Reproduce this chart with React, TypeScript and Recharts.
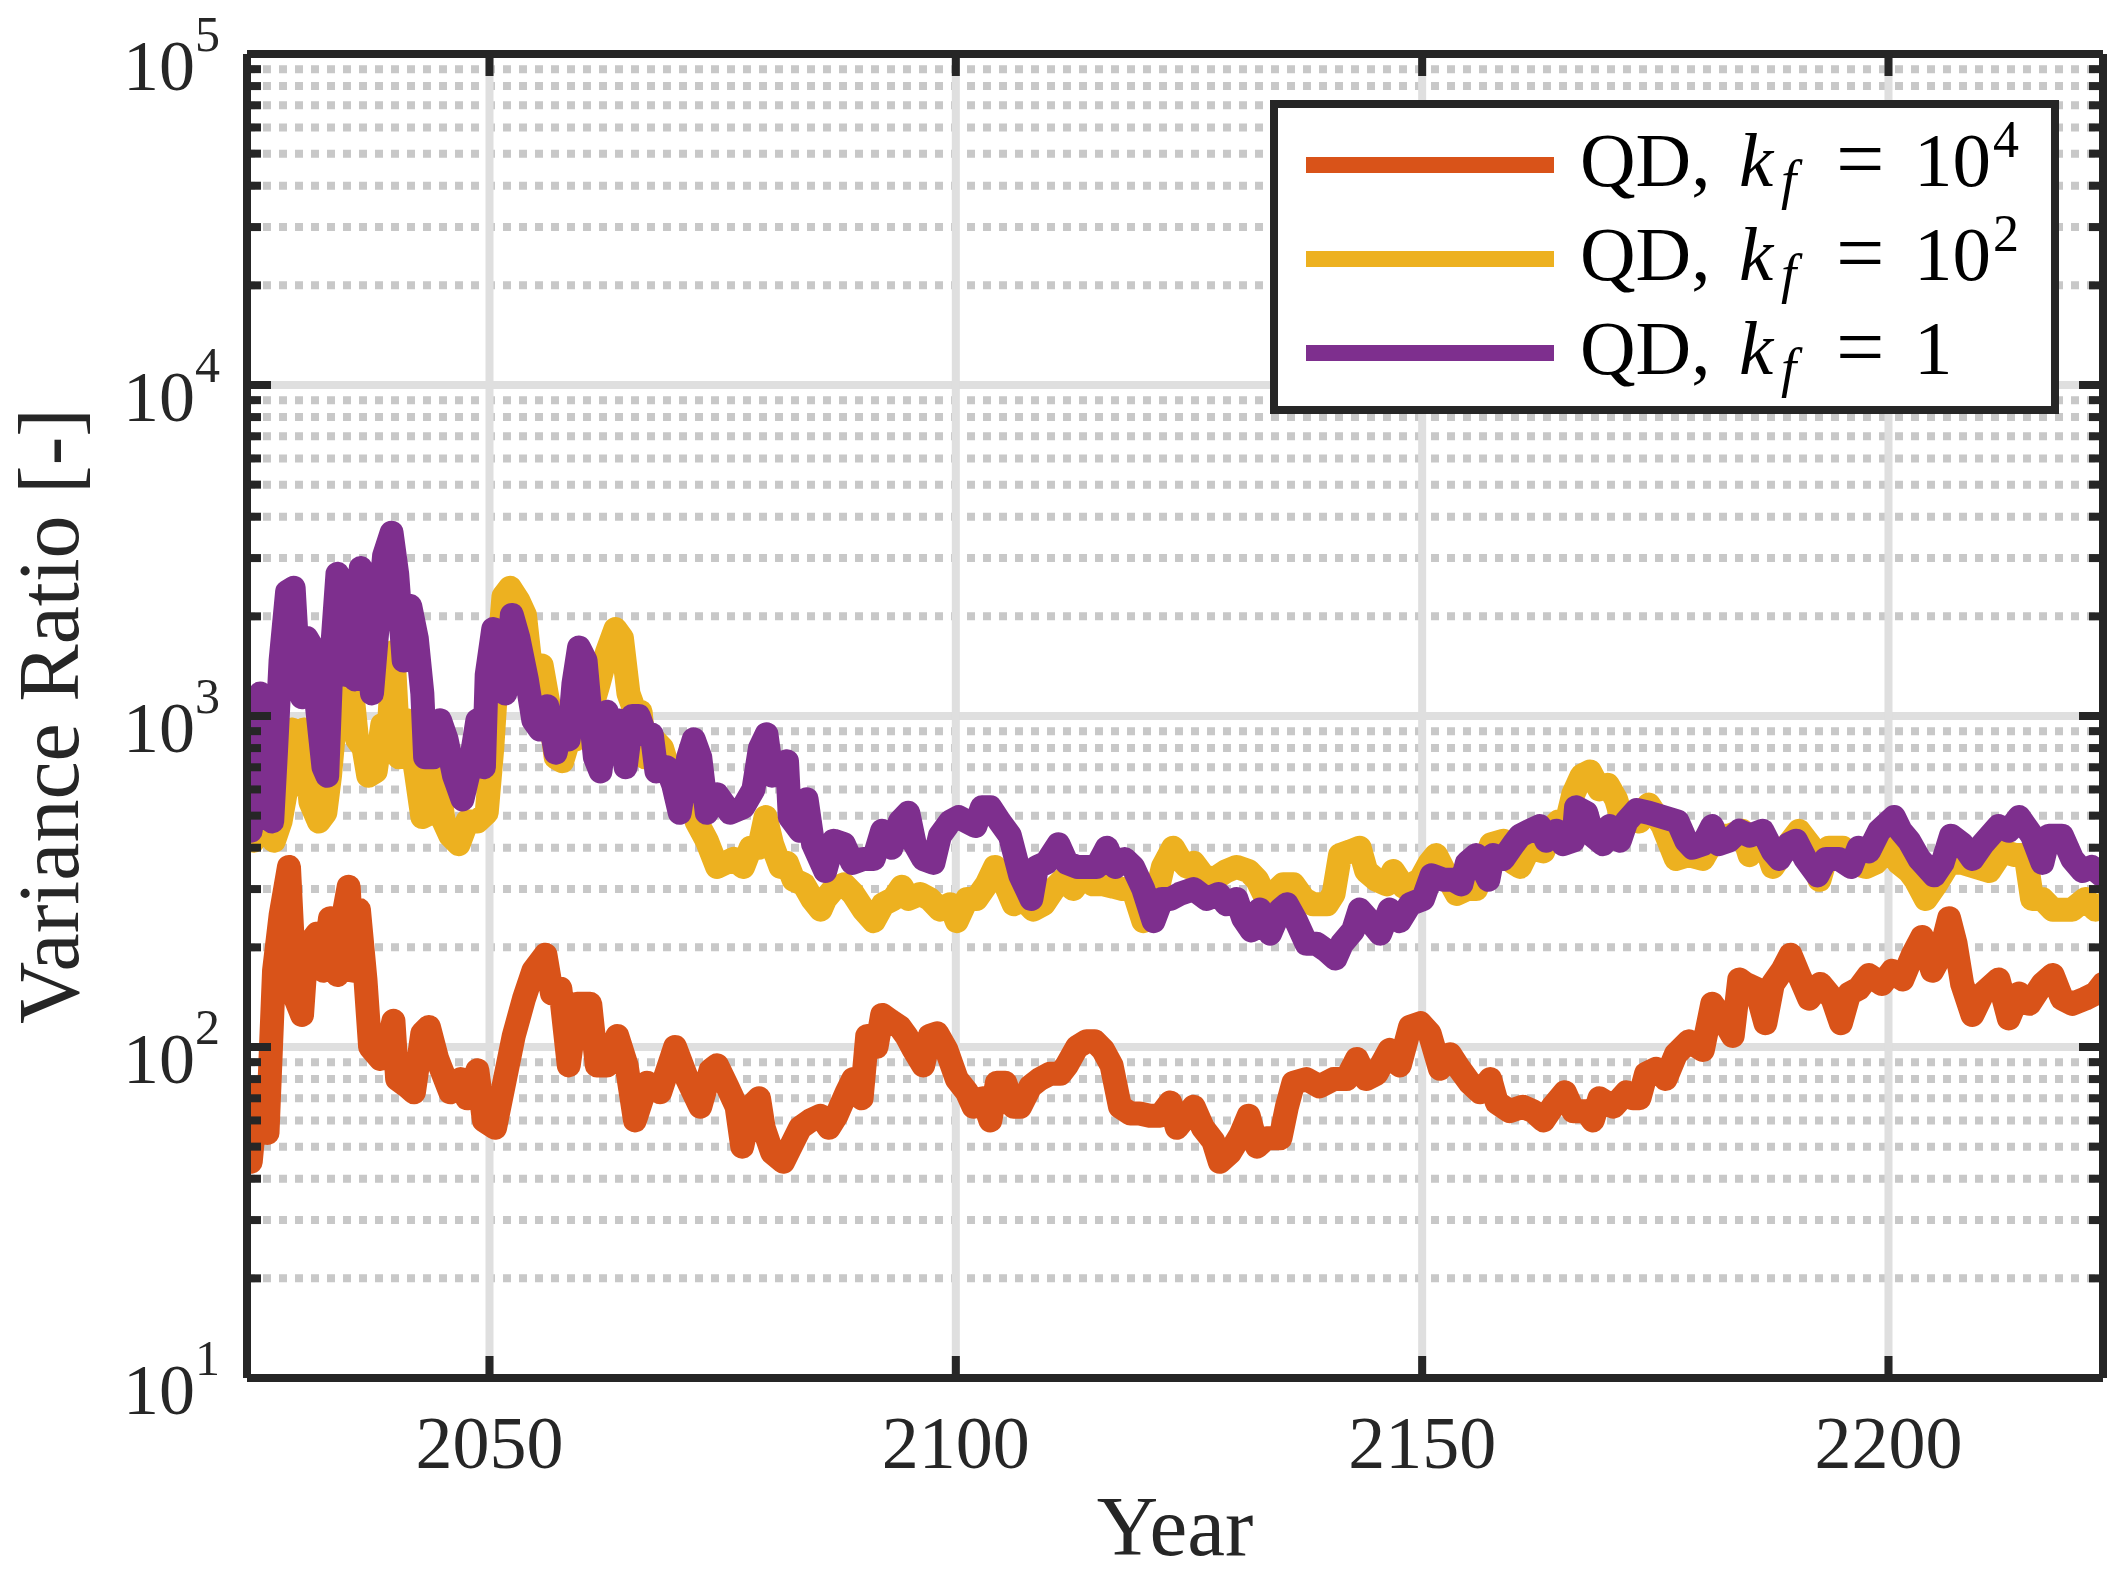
import React from 'react';
import { LineChart, Line, XAxis, YAxis, ReferenceLine, Legend, Label } from 'recharts';

// ---------- data (year, variance ratio) ----------
const orangePoints: [number, number][] = [
  [2024.0, 56], [2024.4, 45], [2025.1, 73], [2026.2, 55], [2026.9, 170], [2027.6, 250], [2028.5, 350],
  [2029.2, 140], [2029.9, 125], [2030.4, 200], [2031.5, 220], [2032.2, 170], [2032.9, 245], [2033.7, 165],
  [2034.4, 255], [2034.9, 305], [2035.4, 170], [2036.0, 260], [2036.7, 160], [2037.2, 100], [2038.3, 92],
  [2039.0, 98], [2039.7, 120], [2040.1, 80], [2041.2, 76], [2041.9, 73], [2042.8, 110], [2043.5, 115],
  [2044.4, 92], [2045.8, 73], [2046.9, 80], [2047.6, 70], [2048.7, 85], [2049.4, 60], [2050.6, 57],
  [2051.5, 76], [2052.6, 108], [2053.7, 140], [2054.7, 170], [2056.0, 190], [2056.7, 145], [2057.6, 150],
  [2058.5, 88], [2059.4, 135], [2060.8, 135], [2061.5, 88], [2062.6, 88], [2063.7, 108], [2064.7, 88],
  [2065.6, 60], [2066.9, 78], [2068.3, 73], [2069.9, 100], [2071.2, 80], [2072.6, 66], [2073.7, 85],
  [2074.4, 88], [2075.5, 76], [2076.5, 66], [2077.1, 50], [2078.0, 66], [2078.9, 70], [2079.4, 57],
  [2080.3, 48], [2081.5, 45], [2082.6, 52], [2083.3, 57], [2084.4, 60], [2085.5, 62], [2086.4, 57],
  [2087.2, 62], [2088.3, 73], [2089.0, 80], [2089.9, 70], [2090.5, 108], [2091.5, 100], [2092.1, 125],
  [2093.0, 120], [2094.0, 115], [2094.7, 108], [2095.5, 98], [2096.5, 88], [2097.2, 108], [2098.0, 110],
  [2099.0, 98], [2100.1, 80], [2101.2, 73], [2101.9, 66], [2102.9, 70], [2103.7, 60], [2104.4, 78],
  [2105.3, 78], [2106.2, 66], [2106.9, 66], [2108.0, 76], [2109.0, 80], [2110.1, 83], [2111.2, 83],
  [2111.9, 88], [2113.0, 100], [2114.0, 104], [2114.9, 104], [2115.8, 98], [2116.7, 88], [2117.6, 66],
  [2118.7, 63], [2119.7, 63], [2120.8, 62], [2121.9, 62], [2123.0, 68], [2123.7, 57], [2125.5, 66],
  [2126.5, 57], [2127.6, 52], [2128.3, 45], [2129.4, 48], [2130.5, 54], [2131.4, 62], [2132.3, 50],
  [2133.3, 53], [2134.8, 53], [2135.5, 66], [2136.2, 78], [2137.6, 80], [2139.0, 76], [2140.5, 80],
  [2141.9, 80], [2143.0, 92], [2144.0, 80], [2145.1, 83], [2146.5, 98], [2147.6, 88], [2148.7, 115],
  [2149.8, 118], [2150.8, 110], [2151.9, 86], [2153.0, 95], [2154.0, 86], [2155.1, 78], [2156.2, 73],
  [2157.3, 80], [2158.0, 68], [2159.4, 64], [2160.8, 66], [2161.9, 64], [2163.0, 60], [2164.0, 66],
  [2165.3, 73], [2166.2, 64], [2167.6, 64], [2168.3, 60], [2169.0, 70], [2170.5, 66], [2171.9, 73],
  [2172.6, 70], [2173.3, 70], [2174.0, 83], [2175.1, 86], [2176.1, 80], [2177.2, 95], [2178.6, 104],
  [2180.1, 98], [2181.1, 135], [2182.2, 122], [2183.3, 108], [2184.0, 160], [2184.7, 155], [2185.8, 150],
  [2186.8, 118], [2187.6, 155], [2188.6, 170], [2189.5, 190], [2190.4, 165], [2191.5, 140], [2192.7, 155],
  [2194.0, 140], [2194.9, 118], [2195.8, 145], [2196.8, 150], [2197.9, 165], [2199.3, 155], [2200.4, 170],
  [2201.5, 160], [2202.6, 190], [2203.6, 215], [2204.7, 170], [2205.4, 185], [2206.5, 245], [2207.2, 205],
  [2207.9, 155], [2209.0, 125], [2210.1, 145], [2211.8, 160], [2212.9, 122], [2214.0, 145], [2215.1, 135],
  [2216.5, 155], [2217.6, 165], [2218.6, 140], [2219.7, 135], [2221.1, 140], [2222.2, 145], [2223.0, 155],
];

const yellowPoints: [number, number][] = [
  [2024.0, 560], [2024.3, 1000], [2024.7, 420], [2025.3, 660], [2026.0, 750], [2026.9, 420], [2027.6, 480],
  [2028.3, 620], [2028.8, 910], [2029.6, 620], [2030.1, 910], [2030.8, 550], [2031.7, 480], [2032.4, 510],
  [2032.9, 660], [2033.7, 1170], [2034.4, 970], [2035.1, 1330], [2035.8, 850], [2036.5, 800], [2037.0, 660],
  [2037.8, 680], [2038.5, 940], [2039.2, 910], [2039.7, 1560], [2040.3, 750], [2041.2, 970], [2042.1, 680],
  [2042.8, 495], [2043.7, 510], [2044.4, 660], [2045.1, 480], [2045.8, 435], [2046.7, 410], [2047.6, 480],
  [2048.7, 480], [2049.7, 510], [2050.3, 800], [2050.8, 1330], [2051.5, 2300], [2052.2, 2440], [2053.1, 2230],
  [2053.8, 2020], [2054.4, 1420], [2055.1, 1330], [2055.6, 1420], [2056.3, 1100], [2057.1, 750], [2057.8, 730],
  [2058.5, 850], [2059.2, 850], [2060.1, 910], [2061.0, 1070], [2061.7, 1250], [2062.6, 1560], [2063.5, 1830],
  [2064.2, 1720], [2064.9, 1170], [2065.6, 1030], [2066.2, 1030], [2066.7, 750], [2067.6, 850], [2068.5, 800],
  [2069.4, 660], [2070.4, 620], [2071.5, 580], [2072.2, 480], [2073.3, 420], [2074.4, 350], [2076.2, 370],
  [2077.2, 350], [2078.0, 400], [2078.9, 400], [2079.6, 495], [2080.3, 410], [2081.2, 350], [2081.9, 360],
  [2082.6, 320], [2083.7, 310], [2084.6, 280], [2085.5, 260], [2086.0, 280], [2086.9, 300], [2088.0, 310],
  [2089.0, 290], [2090.1, 260], [2091.2, 240], [2092.2, 270], [2093.3, 280], [2094.2, 305], [2094.9, 280],
  [2096.2, 290], [2097.2, 280], [2098.3, 260], [2099.4, 270], [2100.1, 240], [2101.2, 280], [2102.2, 280],
  [2103.3, 310], [2104.2, 350], [2105.1, 320], [2106.2, 270], [2107.2, 280], [2108.3, 260], [2109.4, 270],
  [2110.5, 300], [2111.5, 320], [2112.6, 300], [2113.7, 330], [2114.7, 310], [2115.8, 310], [2116.9, 305],
  [2117.9, 300], [2119.0, 300], [2120.1, 240], [2121.4, 280], [2122.2, 350], [2123.3, 400], [2124.0, 370],
  [2124.8, 350], [2125.5, 360], [2126.5, 330], [2127.6, 320], [2129.0, 340], [2130.1, 350], [2131.4, 340],
  [2132.3, 320], [2133.3, 280], [2134.0, 290], [2135.1, 310], [2136.2, 310], [2137.3, 280], [2138.3, 270],
  [2139.8, 270], [2140.5, 290], [2141.2, 380], [2142.3, 390], [2143.3, 400], [2144.0, 340], [2145.1, 320],
  [2146.2, 310], [2146.9, 340], [2148.0, 305], [2148.9, 310], [2149.8, 320], [2150.8, 360], [2151.5, 380],
  [2152.6, 330], [2153.7, 290], [2154.8, 300], [2155.8, 300], [2156.5, 350], [2157.4, 410], [2158.7, 420],
  [2159.8, 360], [2160.5, 350], [2161.5, 400], [2163.0, 390], [2163.7, 450], [2164.6, 480], [2165.5, 480],
  [2166.2, 580], [2167.1, 660], [2168.0, 680], [2169.0, 600], [2169.9, 620], [2170.8, 560], [2171.5, 480],
  [2172.6, 510], [2173.3, 480], [2174.3, 540], [2175.8, 465], [2177.2, 370], [2178.6, 380], [2180.1, 370],
  [2181.5, 435], [2182.9, 435], [2184.3, 450], [2185.1, 380], [2186.5, 435], [2187.6, 350], [2189.0, 400],
  [2190.4, 450], [2191.8, 400], [2192.6, 320], [2193.6, 400], [2195.1, 400], [2196.1, 360], [2197.6, 350],
  [2198.6, 360], [2200.1, 400], [2201.1, 360], [2202.2, 340], [2202.9, 320], [2204.0, 280], [2205.1, 310],
  [2206.5, 360], [2207.9, 360], [2209.3, 350], [2210.8, 340], [2212.2, 390], [2213.6, 380], [2214.7, 380],
  [2215.4, 280], [2216.5, 280], [2217.6, 260], [2218.6, 260], [2219.7, 260], [2221.1, 280], [2222.2, 260],
  [2223.0, 270],
];

const purplePoints: [number, number][] = [
  [2024.0, 660], [2024.4, 450], [2024.9, 1100], [2025.4, 1170], [2026.0, 1140], [2026.7, 480], [2027.1, 775],
  [2027.6, 1470], [2028.3, 2370], [2029.0, 2440], [2029.6, 1250], [2029.9, 1140], [2030.4, 1720], [2031.0, 1610],
  [2031.5, 1070], [2032.2, 700], [2032.6, 660], [2033.1, 1560], [2033.7, 2690], [2034.0, 2020], [2034.6, 1330],
  [2035.1, 2170], [2035.6, 1290], [2036.2, 2800], [2036.7, 1830], [2037.4, 1170], [2037.9, 1720], [2038.7, 3050],
  [2039.5, 3580], [2040.1, 2690], [2040.8, 1470], [2041.5, 2150], [2042.2, 1720], [2042.8, 1170], [2043.1, 750],
  [2044.0, 750], [2044.7, 970], [2045.4, 850], [2046.2, 660], [2047.1, 560], [2047.9, 700], [2048.7, 970],
  [2049.4, 700], [2049.7, 1330], [2050.4, 1830], [2051.2, 1420], [2051.7, 1170], [2052.4, 2020], [2053.1, 1720],
  [2054.0, 1290], [2054.7, 970], [2055.4, 910], [2056.2, 1070], [2057.1, 775], [2057.8, 970], [2058.5, 850],
  [2059.0, 1250], [2059.6, 1610], [2060.3, 1470], [2060.8, 1030], [2061.3, 750], [2061.9, 680], [2062.6, 1030],
  [2063.1, 800], [2063.8, 970], [2064.6, 700], [2065.3, 1000], [2066.0, 1000], [2066.7, 880], [2067.4, 880],
  [2067.9, 680], [2069.0, 700], [2069.7, 620], [2070.4, 510], [2071.3, 750], [2071.9, 850], [2072.6, 750],
  [2073.3, 510], [2074.4, 580], [2075.8, 510], [2077.2, 530], [2078.3, 600], [2079.0, 800], [2079.7, 880],
  [2080.3, 660], [2081.0, 680], [2081.9, 730], [2082.2, 495], [2083.3, 450], [2084.0, 560], [2084.7, 410],
  [2086.0, 340], [2086.9, 420], [2088.0, 410], [2088.9, 360], [2090.1, 370], [2091.2, 370], [2092.1, 450],
  [2093.1, 400], [2094.0, 480], [2094.9, 510], [2095.6, 410], [2096.5, 370], [2097.6, 360], [2098.3, 435],
  [2099.4, 480], [2100.3, 495], [2101.2, 480], [2102.1, 465], [2102.8, 530], [2103.7, 530], [2104.7, 480],
  [2105.8, 435], [2106.9, 330], [2108.1, 280], [2108.7, 350], [2109.7, 360], [2111.0, 410], [2111.9, 360],
  [2113.0, 350], [2114.0, 350], [2115.1, 350], [2116.2, 400], [2117.1, 350], [2118.1, 370], [2119.0, 350],
  [2120.1, 300], [2121.2, 240], [2122.1, 280], [2123.0, 280], [2124.0, 290], [2125.5, 300], [2126.9, 280],
  [2128.2, 290], [2129.0, 270], [2130.1, 280], [2130.8, 245], [2131.7, 225], [2132.6, 260], [2133.7, 220],
  [2134.8, 260], [2135.5, 270], [2136.5, 240], [2137.6, 205], [2138.7, 205], [2139.8, 195], [2140.7, 185],
  [2141.4, 205], [2142.6, 225], [2143.3, 260], [2144.4, 240], [2145.5, 220], [2146.5, 260], [2147.6, 240],
  [2148.7, 270], [2150.1, 280], [2151.0, 330], [2152.3, 320], [2153.3, 320], [2154.2, 310], [2154.8, 360],
  [2155.8, 380], [2157.1, 320], [2157.6, 380], [2158.7, 370], [2159.8, 410], [2160.5, 435], [2161.5, 450],
  [2162.6, 465], [2163.3, 420], [2164.4, 450], [2165.1, 410], [2166.2, 420], [2166.5, 530], [2167.6, 510],
  [2168.3, 435], [2169.4, 410], [2170.1, 465], [2171.2, 420], [2171.9, 480], [2173.0, 520], [2174.3, 510],
  [2175.8, 495], [2177.4, 480], [2178.3, 420], [2179.0, 400], [2180.1, 410], [2181.1, 465], [2181.8, 410],
  [2182.9, 420], [2184.0, 450], [2185.1, 435], [2186.5, 450], [2187.6, 390], [2188.3, 370], [2189.3, 410],
  [2190.1, 420], [2191.1, 370], [2192.4, 330], [2193.3, 370], [2194.7, 370], [2196.0, 350], [2196.8, 400],
  [2197.9, 390], [2199.0, 450], [2200.6, 495], [2201.3, 450], [2202.2, 420], [2203.3, 370], [2204.9, 330],
  [2205.8, 360], [2206.7, 435], [2207.9, 410], [2209.0, 370], [2210.1, 410], [2211.8, 465], [2212.9, 450],
  [2214.0, 495], [2215.4, 435], [2216.5, 360], [2217.2, 435], [2218.6, 435], [2219.7, 370], [2220.8, 340],
  [2221.8, 350], [2222.9, 330],
];

// ---------- axes / labels ----------
const xDomain: [number, number] = [2024, 2223];
const yDomain: [number, number] = [10, 100000];
const xTicks = [2050, 2100, 2150, 2200];
const yMajorTicks = [10, 100, 1000, 10000, 100000];
const yMinorMultipliers = [2, 3, 4, 5, 6, 7, 8, 9];
const yAllTicks: number[] = yMajorTicks.flatMap((d, i) =>
  i < yMajorTicks.length - 1 ? [d, ...yMinorMultipliers.map((m) => m * d)] : [d]
);
const yMinorTicks = yAllTicks.filter((v) => !yMajorTicks.includes(v));
const yGridMajor = [100, 1000, 10000];

const seriesNames = ['QD, k_f = 10^4', 'QD, k_f = 10^2', 'QD, k_f = 1'];
const seriesValueText = [['10', '4'], ['10', '2'], ['1', '']];
const seriesColors = ['#D95319', '#EDB120', '#7E2F8E'];

const toRows = (pts: [number, number][]) => pts.map(([year, v]) => ({ year, v }));
const seriesData = [toRows(orangePoints), toRows(yellowPoints), toRows(purplePoints)];

// ---------- styling ----------
const FONT = '"Liberation Serif", "Times New Roman", Times, serif';
const AX = '#262626';
const W = 2124;
const H = 1593;
const LW = 8; // axis / grid line width

const isMajor = (v: number) => Math.abs(Math.log10(v) - Math.round(Math.log10(v))) < 1e-9;

function LeftTick(props: any) {
  const { x, y, payload } = props;
  const v = payload.value;
  const major = isMajor(v);
  const len = major ? 24 : 14;
  const e = Math.round(Math.log10(v));
  return (
    <g>
      <line x1={x} x2={x + len} y1={y} y2={y} stroke={AX} strokeWidth={LW} />
      {major && (
        <text x={x - 27} y={y + 36} textAnchor="end" fontFamily={FONT} fontSize={72} fill={AX}>
          10
          <tspan dy={-39} fontSize={50}>
            {e}
          </tspan>
        </text>
      )}
    </g>
  );
}

function RightTick(props: any) {
  const { x, y, payload } = props;
  const len = isMajor(payload.value) ? 24 : 14;
  return <line x1={x} x2={x - len} y1={y} y2={y} stroke={AX} strokeWidth={LW} />;
}

function BottomTick(props: any) {
  const { x, y, payload } = props;
  return (
    <g>
      <line x1={x} x2={x} y1={y} y2={y - 22} stroke={AX} strokeWidth={LW} />
      <text x={x} y={y + 90} textAnchor="middle" fontFamily={FONT} fontSize={74} fill={AX}>
        {payload.value}
      </text>
    </g>
  );
}

function TopTick(props: any) {
  const { x, y } = props;
  return <line x1={x} x2={x} y1={y} y2={y + 22} stroke={AX} strokeWidth={LW} />;
}

function YTitle(props: any) {
  const vb = props.viewBox || { x: 0, y: 54, width: 247, height: 1324 };
  const cx = vb.x + 78;
  const cy = vb.y + vb.height / 2;
  return (
    <text
      transform={`translate(${cx}, ${cy}) rotate(-90)`}
      textAnchor="middle"
      fontFamily={FONT}
      fontSize={86}
      fill={AX}
    >
      Variance Ratio [-]
    </text>
  );
}

function XTitle(props: any) {
  const vb = props.viewBox || { x: 247, y: 1378, width: 1856, height: 215 };
  return (
    <text x={vb.x + vb.width / 2} y={vb.y + 177} textAnchor="middle" fontFamily={FONT} fontSize={85} fill={AX}>
      Year
    </text>
  );
}

function LegendBox() {
  return (
    <div
      style={{
        boxSizing: 'border-box',
        width: 789,
        height: 314,
        border: `8px solid ${AX}`,
        background: '#ffffff',
      }}
    >
      <svg width={773} height={298} style={{ display: 'block' }}>
        {seriesNames.map((name, i) => {
          const cy = 57 + 94 * i;
          const base = cy + 21;
          const [main, sup] = seriesValueText[i];
          return (
            <g key={name}>
              <line x1={28} x2={276} y1={cy} y2={cy} stroke={seriesColors[i]} strokeWidth={16} />
              <text fontFamily={FONT} fill="#000" fontSize={77}>
                <tspan x={302} y={base}>QD,</tspan>
                <tspan x={461} y={base} fontStyle="italic">k</tspan>
                <tspan x={503} y={base + 12} fontStyle="italic" fontSize={55}>f</tspan>
                <tspan x={558} y={base + 2} fontSize={86}>=</tspan>
                <tspan x={636} y={base}>{main}</tspan>
                {sup && (
                  <tspan x={715} y={base - 29} fontSize={52}>
                    {sup}
                  </tspan>
                )}
              </text>
            </g>
          );
        })}
      </svg>
    </div>
  );
}

export default function App() {
  return (
    <div style={{ position: 'absolute', left: 0, top: 0, width: W, height: H, background: '#fff' }}>
      <LineChart width={W} height={H} margin={{ top: 0, right: 0, bottom: 0, left: 0 }}>
        <XAxis
          xAxisId="b"
          dataKey="year"
          type="number"
          domain={xDomain}
          allowDataOverflow
          ticks={xTicks}
          interval={0}
          orientation="bottom"
          height={215}
          tickSize={0}
          tickMargin={0}
          axisLine={{ stroke: AX, strokeWidth: LW }}
          tickLine={false}
          tick={(p: any) => <BottomTick {...p} />}
        >
          <Label content={(p: any) => <XTitle {...p} />} />
        </XAxis>
        <XAxis
          xAxisId="t"
          dataKey="year"
          type="number"
          domain={xDomain}
          allowDataOverflow
          ticks={xTicks}
          interval={0}
          orientation="top"
          height={54}
          tickSize={0}
          tickMargin={0}
          axisLine={{ stroke: AX, strokeWidth: LW }}
          tickLine={false}
          tick={(p: any) => <TopTick {...p} />}
        />
        <YAxis
          yAxisId="l"
          dataKey="v"
          type="number"
          scale="log"
          domain={yDomain}
          allowDataOverflow
          ticks={yAllTicks}
          interval={0}
          orientation="left"
          width={247}
          tickSize={0}
          tickMargin={0}
          axisLine={{ stroke: AX, strokeWidth: LW }}
          tickLine={false}
          tick={(p: any) => <LeftTick {...p} />}
        >
          <Label content={(p: any) => <YTitle {...p} />} />
        </YAxis>
        <YAxis
          yAxisId="r"
          type="number"
          scale="log"
          domain={yDomain}
          allowDataOverflow
          ticks={yAllTicks}
          interval={0}
          orientation="right"
          width={21}
          tickSize={0}
          tickMargin={0}
          axisLine={{ stroke: AX, strokeWidth: LW }}
          tickLine={false}
          tick={(p: any) => <RightTick {...p} />}
        />

        {yMinorTicks.map((v) => (
          <ReferenceLine
            key={`ym${v}`}
            xAxisId="b"
            yAxisId="l"
            y={v}
            stroke="#c8c8c8"
            strokeWidth={LW}
            strokeDasharray="8 8"
            zIndex={-60}
          />
        ))}
        {yGridMajor.map((v) => (
          <ReferenceLine
            key={`yM${v}`}
            xAxisId="b"
            yAxisId="l"
            y={v}
            stroke="#dfdfdf"
            strokeWidth={LW}
            zIndex={-55}
          />
        ))}
        {xTicks.map((v) => (
          <ReferenceLine
            key={`xM${v}`}
            xAxisId="b"
            yAxisId="l"
            x={v}
            stroke="#dfdfdf"
            strokeWidth={LW}
            zIndex={-55}
          />
        ))}

        {seriesData.map((d, i) => (
          <Line
            key={seriesNames[i]}
            xAxisId="b"
            yAxisId="l"
            data={d}
            dataKey="v"
            name={seriesNames[i]}
            type="linear"
            stroke={seriesColors[i]}
            strokeWidth={24}
            strokeLinejoin="round"
            strokeLinecap="round"
            dot={false}
            activeDot={false}
            isAnimationActive={false}
          />
        ))}

        <Legend
          layout="vertical"
          align="center"
          verticalAlign="middle"
          wrapperStyle={{ position: 'absolute', left: 1270, top: 100, width: 789, height: 314 }}
          content={() => <LegendBox />}
        />
      </LineChart>
    </div>
  );
}
